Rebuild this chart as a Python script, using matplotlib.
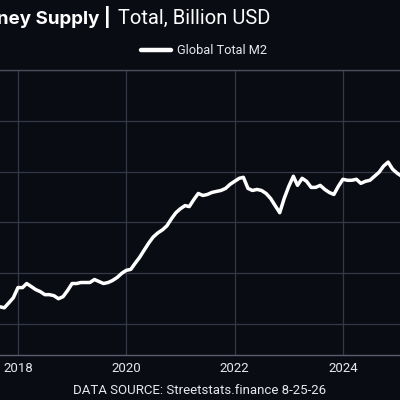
import matplotlib
matplotlib.use("Agg")
import matplotlib.pyplot as plt
import matplotlib.dates as mdates
import pandas as pd
from datetime import datetime

plt.rcParams['font.family'] = ['Roboto', 'DejaVu Sans']

# Monthly Global Total M2 (billion USD), Sep 2017 - Feb 2025
months = pd.date_range("2017-09-01", "2025-02-01", freq="MS")
m2_values = [
    73390, 73190, 74180, 75180,                                            # 2017 Sep-Dec
    77170, 77170, 77970, 77370, 76770, 76370, 75780, 75780, 75580, 74980, 75380, 76570,  # 2018
    77970, 77970, 78170, 78170, 78170, 78760, 78370, 77970, 78170, 78570, 79160, 79960,  # 2019
    80560, 80760, 81950, 83150, 84540, 85940, 87130, 87930, 88530, 89320, 90720, 91910,  # 2020
    92710, 93310, 93110, 94500, 95700, 95300, 95500, 95900, 96100, 96290, 96690, 97490,  # 2021
    98090, 98680, 98880, 96690, 96290, 96490, 96290, 95700, 94700, 93310, 91910, 94700,  # 2022
    97090, 99080, 97290, 98680, 98090, 96890, 96890, 97290, 96490, 95900, 95500, 97090,  # 2023
    98490, 98290, 98290, 98490, 97690, 98090, 98290, 99080, 99880, 101080, 101870, 100480,  # 2024
    99680, 99080,                                                          # 2025
]
series_label = "Global Total M2"
title_bold = "Global Money Supply |"
title_rest = "Total, Billion USD"
source_text = "DATA SOURCE: Streetstats.finance 8-25-26"
tick_years = [2018, 2020, 2022, 2024]

bg = "#0a0c14"
grid_c = "#353845"

fig = plt.figure(figsize=(4, 4), dpi=100, facecolor=bg)
ax = fig.add_axes([0.0, 1 - 355 / 400, 1.0, (355 - 70) / 400])
ax.set_facecolor(bg)

ax.plot(months, m2_values, color="white", lw=2.5, solid_joinstyle="round",
        solid_capstyle="round", label=series_label, zorder=3)

ax.set_xlim(datetime(2017, 9, 2), datetime(2025, 1, 20))
ax.set_ylim(63900, 120000)
ax.set_yticks([70000, 80000, 90000, 100000, 110000, 120000])
ax.set_xticks([datetime(y, 1, 1) for y in tick_years])
ax.xaxis.set_major_formatter(mdates.DateFormatter("%Y"))
ax.tick_params(axis="x", length=0, pad=5, labelsize=9.5, labelcolor="#e8e8ec")
ax.tick_params(axis="y", length=0, labelleft=False)
ax.grid(True, color=grid_c, lw=0.9, zorder=0)
for s in ["left", "right"]:
    ax.spines[s].set_visible(False)
ax.spines["top"].set_color("#4a4d5a")
ax.spines["top"].set_linewidth(1.0)
ax.spines["bottom"].set_color("#5a5e6c")
ax.spines["bottom"].set_linewidth(1.0)

# Title (left part runs off the canvas as in the reference crop)
fig.text(111 / 400, 1 - 24 / 400, title_bold, ha="right", va="baseline",
         fontsize=13.5, fontweight="bold", color="white",
         family=["Inter", "DejaVu Sans"])
fig.text(118 / 400, 1 - 24 / 400, title_rest, ha="left", va="baseline",
         fontsize=14.5, color="white")

leg = fig.legend(loc="center", bbox_to_anchor=(0.51, 1 - 51 / 400), frameon=False,
                 fontsize=9.2, handlelength=2.3, handletextpad=0.5)
for t in leg.get_texts():
    t.set_color("#e8e8ec")
for l in leg.get_lines():
    l.set_linewidth(3.2)

fig.text(0.5, 1 - 390 / 400, source_text, ha="center", va="center",
         fontsize=9.5, color="#e8e8ec")

fig.savefig("out.png", dpi=100, facecolor=bg)
